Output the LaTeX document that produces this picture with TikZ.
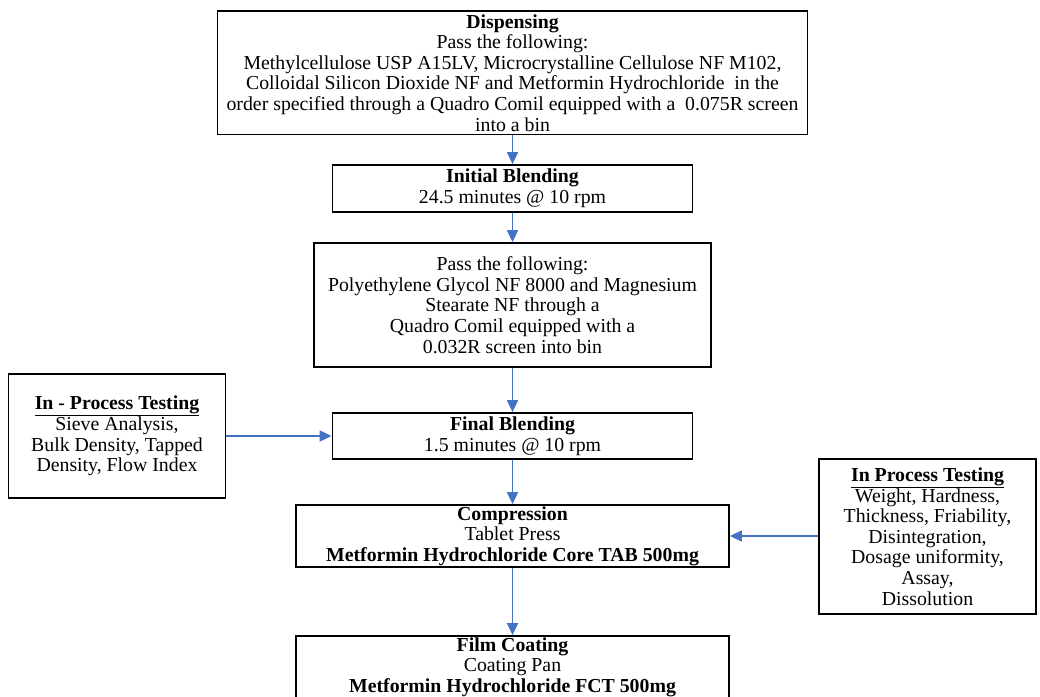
\documentclass[tikz,border=0pt]{standalone}
\usepackage{fontspec}
\setmainfont{Liberation Serif}
\usetikzlibrary{arrows.meta}
\definecolor{flowblue}{RGB}{68,114,196}
\tikzset{
  stepbox/.style={draw=black, line width=1.8pt, align=center, inner sep=0pt,
    font=\fontsize{19.8}{20.6}\selectfont},
  flow/.style={flowblue, line width=1.8pt, -{Triangle[length=12pt,width=11pt]}}
}

\begin{document}
\begin{tikzpicture}[x=1pt,y=-1pt]
\useasboundingbox (0,0) rectangle (1040,696);

\node[stepbox, minimum width=590pt, minimum height=123.5pt] (disp) at (512.5,72.75)
  {\textbf{Dispensing}\\Pass the following:\\
   Methylcellulose USP A15LV, Microcrystalline Cellulose NF M102,\\
   Colloidal Silicon Dioxide NF and Metformin Hydrochloride~ in the\\
   order specified through a Quadro Comil equipped with a~ 0.075R screen\\
   into a bin};
\node[stepbox, minimum width=360pt, minimum height=47pt] (init) at (512.5,188.5)
  {\textbf{Initial Blending}\\24.5 minutes @ 10 rpm};
\node[stepbox, minimum width=397pt, minimum height=124pt] (pass) at (512.5,305)
  {Pass the following:\\Polyethylene Glycol NF 8000 and Magnesium\\
   Stearate NF through a\\Quadro Comil equipped with a\\0.032R screen into bin};
\node[stepbox, minimum width=360pt, minimum height=46pt] (final) at (512.5,436)
  {\textbf{Final Blending}\\1.5 minutes @ 10 rpm};
\node[stepbox, minimum width=433pt, minimum height=62pt] (comp) at (512.5,536)
  {\textbf{Compression}\\Tablet Press\\\textbf{Metformin Hydrochloride Core TAB 500mg}};
\node[stepbox, minimum width=433pt, minimum height=62pt] (film) at (512.5,667)
  {\textbf{Film Coating}\\Coating Pan\\\textbf{Metformin Hydrochloride FCT 500mg}};

\node[stepbox, minimum width=217pt, minimum height=123.5pt] (test1) at (117,436)
  {\underline{\textbf{In - Process Testing}}\\Sieve Analysis,\\
   Bulk Density, Tapped\\Density, Flow Index};
\node[stepbox, minimum width=217pt, minimum height=155pt] (test2) at (927.5,536.5)
  {\underline{\textbf{In Process Testing}}\\Weight, Hardness,\\
   Thickness, Friability,\\Disintegration,\\Dosage uniformity,\\Assay,\\Dissolution};

\draw[flow] (disp.south) -- (init.north);
\draw[flow] (init.south) -- (pass.north);
\draw[flow] (pass.south) -- (final.north);
\draw[flow] (final.south) -- (comp.north);
\draw[flow] (comp.south) -- (film.north);
\draw[flow] (test1.east) -- (final.west);
\draw[flow] (test2.west |- comp.east) -- (comp.east);
\end{tikzpicture}
\end{document}
